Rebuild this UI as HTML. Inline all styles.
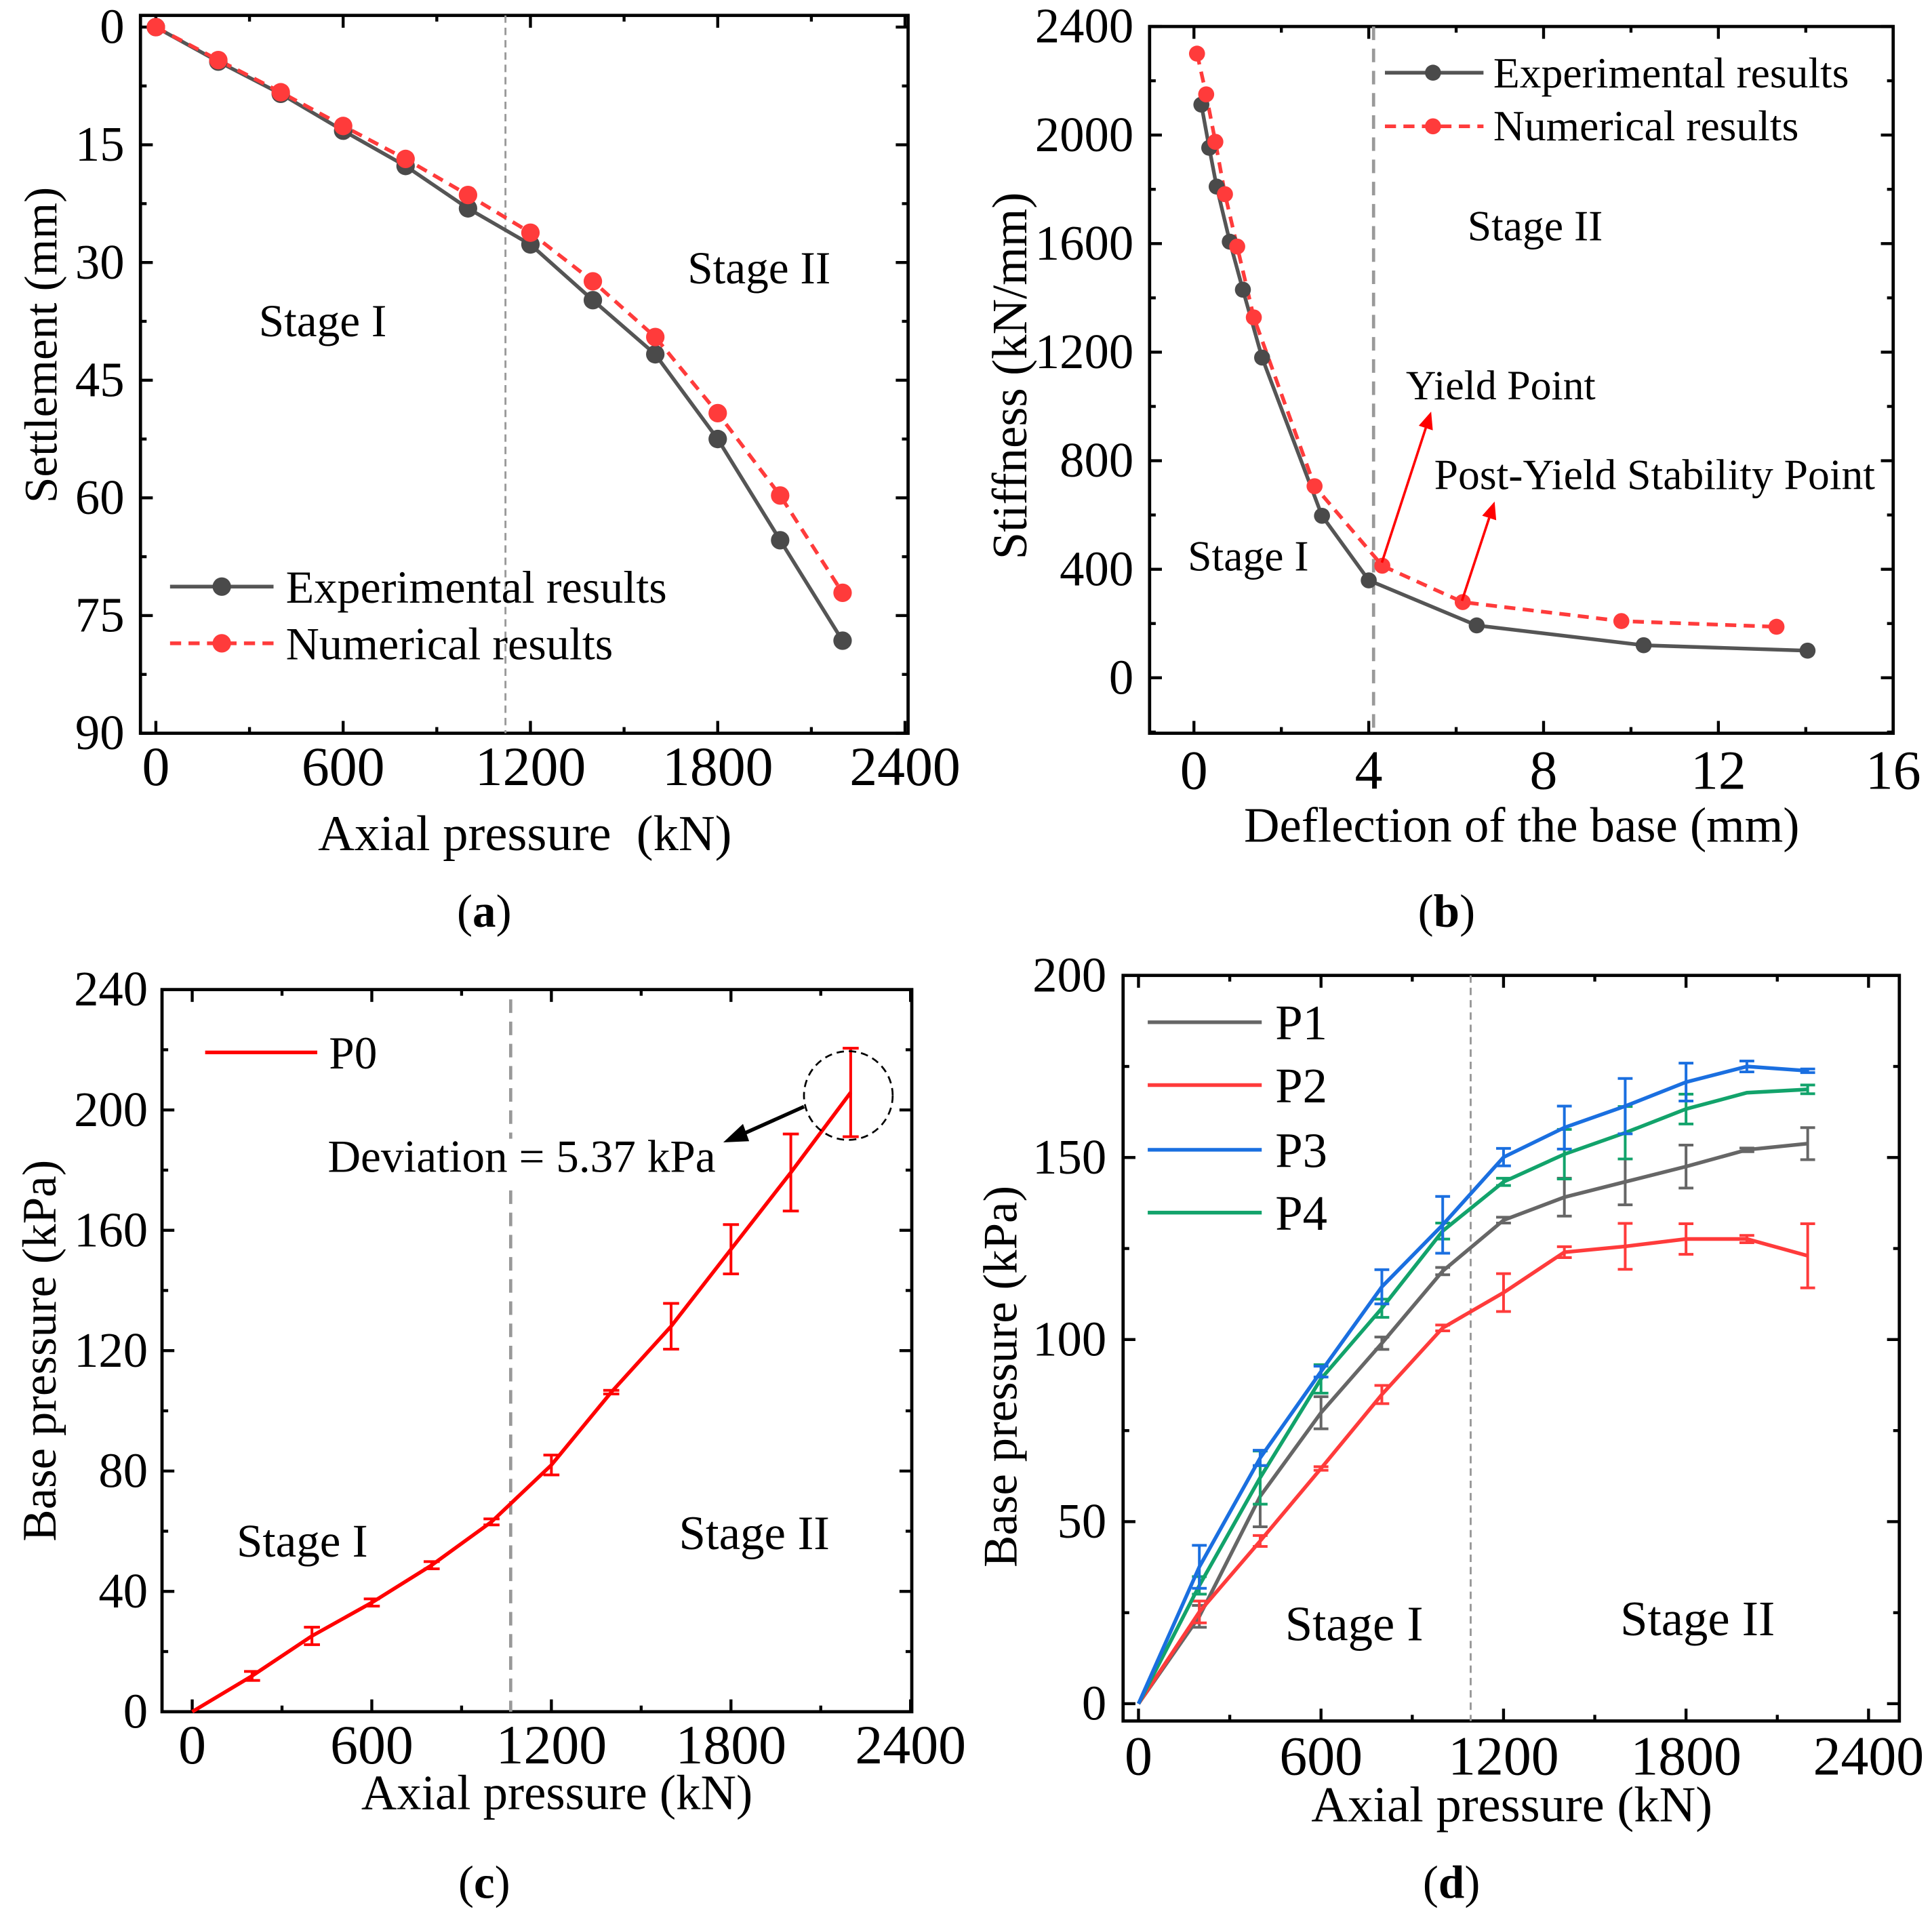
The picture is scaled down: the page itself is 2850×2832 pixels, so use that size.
<!DOCTYPE html>
<html><head><meta charset="utf-8"><style>
html,body{margin:0;padding:0;background:#fff}
svg{display:block}
text{font-family:"Liberation Serif",serif;fill:#000}
</style></head><body>
<svg id="fig" xmlns="http://www.w3.org/2000/svg" width="2850" height="2832" viewBox="0 0 1568 1558" preserveAspectRatio="none">
<rect x="0" y="0" width="1568" height="1558" fill="#fff"/>
</svg>
<script>
// ---- Panel (a) data ----
const aX = [0,200,400,600,800,1000,1200,1400,1600,1800,2000,2200];
const aExp = [0,4.4,8.5,13.2,17.7,23.1,27.7,34.8,41.7,52.5,65.4,78.2];
const aNum = [0,4.2,8.3,12.6,16.8,21.4,26.2,32.4,39.5,49.2,59.7,72.1];
const aXTicks = [0,600,1200,1800,2400];
const aYTicks = [0,15,30,45,60,75,90];
// ---- Panel (b) data ----
const bExpX = [0.17,0.35,0.52,0.82,1.12,1.56,2.93,4.0,6.47,10.29,14.04];
const bExpY = [2112,1953,1810,1607,1430,1180,597,359,193,120,100];
const bNumX = [0.07,0.28,0.49,0.71,0.99,1.37,2.76,4.31,6.15,9.78,13.33];
const bNumY = [2300,2150,1975,1782,1589,1328,706,413,279,209,188];
const bXTicks = [0,4,8,12,16];
const bYTicks = [0,400,800,1200,1600,2000,2400];
// ---- Panel (c) data ----
const cX = [0,200,400,600,800,1000,1200,1400,1600,1800,2000,2200];
const cP0 = [0,11.9,25.2,36.3,48.7,63.1,82.0,106.2,128.1,153.7,179.2,205.8];
const cErr = [0,1.5,2.9,1.2,1.2,1.0,3.3,0.6,7.6,8.2,12.8,14.7];
const cXTicks = [0,600,1200,1800,2400];
const cYTicks = [0,40,80,120,160,200,240];
// ---- Panel (d) data ----
const dX = [0,200,400,600,800,1000,1200,1400,1600,1800,2000,2200];
const dP1 = [0,24.0,57.0,79.9,99.0,118.8,132.8,139.1,143.3,147.5,152.1,153.8];
const dP1Err = [0,3,8.4,4.4,1.7,1,0.8,5.2,6.3,5.9,0.5,4.4];
const dP2 = [0,25.2,44.7,64.6,84.9,103.2,112.9,124.0,125.6,127.6,127.6,123.0];
const dP2Err = [0,3,1.5,0.5,2.5,0.8,5.2,1.5,6.3,4.2,1.0,8.8];
const dP3 = [0,37.6,67.5,91.2,114.5,131.5,150.1,158.2,164.1,170.7,175.0,173.8];
const dP3Err = [0,5.9,2.1,1.5,4.7,7.8,2.4,5.9,7.6,5.2,1.5,0.5];
const dP4 = [0,32.5,62.1,89.2,108.6,129.8,143.3,150.9,156.8,163.3,167.8,168.7];
const dP4Err = [0,2.4,7.3,3.9,2.5,2.2,1,6.8,7.2,4.1,0,1.2];
const dXTicks = [0,600,1200,1800,2400];
const dYTicks = [0,50,100,150,200];

const NS = "http://www.w3.org/2000/svg";
const svg = document.getElementById('fig');
function mk(tag, attrs, parent){
  const e = document.createElementNS(NS, tag);
  for (const k in attrs) e.setAttribute(k, attrs[k]);
  (parent||svg).appendChild(e);
  return e;
}
function lin(v0,p0,v1,p1){ return v => p0 + (v-v0)/(v1-v0)*(p1-p0); }

function axes(g, fx, fy, fr, xt, xminor, yt, yminor, xLab, yLab, xBase, yRight){
  const frame = mk('rect',{x:fr[0],y:fr[1],width:fr[2]-fr[0],height:fr[3]-fr[1],fill:'none',stroke:'#000','stroke-width':2.6},g);
  
  
  const tk = (x1,y1,x2,y2)=>mk('line',{x1,y1,x2,y2,stroke:'#000','stroke-width':2.4},g);
  xt.forEach(v=>{ const x=fx(v); tk(x,fr[3],x,fr[3]-10); tk(x,fr[1],x,fr[1]+10);
    const t=mk('text',{x:x,y:xBase,'text-anchor':'middle','font-size':45},g); t.textContent=xLab(v);
      });
  xminor.forEach(v=>{ const x=fx(v); tk(x,fr[3],x,fr[3]-5); tk(x,fr[1],x,fr[1]+5); });
  yt.forEach(v=>{ const y=fy(v); tk(fr[0],y,fr[0]+10,y); tk(fr[2],y,fr[2]-10,y);
    const t=mk('text',{x:yRight,y:y+13,'text-anchor':'end','font-size':40},g); t.textContent=yLab(v);
      });
  yminor.forEach(v=>{ const y=fy(v); tk(fr[0],y,fr[0]+5,y); tk(fr[2],y,fr[2]-5,y); });
}
function txt(g,x,y,s,size,name,extra){
  const t=mk('text',Object.assign({x,y,'font-size':size},extra||{}),g); t.textContent=s;
    return t;
}
function poly(g,xs,ys,fx,fy,attrs){
  const pts = xs.map((x,i)=>fx(x).toFixed(1)+','+fy(ys[i]).toFixed(1)).join(' ');
  return mk('polyline',Object.assign({points:pts,fill:'none'},attrs),g);
}
function errbars(g,xs,ys,es,fx,fy,col,cap){
  xs.forEach((x,i)=>{ if(!es[i]) return; const px=fx(x), y1=fy(ys[i]-es[i]), y2=fy(ys[i]+es[i]);
    const e=mk('path',{d:`M${px},${y1}V${y2}M${px-cap},${y1}H${px+cap}M${px-cap},${y2}H${px+cap}`,stroke:col,'stroke-width':2.2,fill:'none'},g);
      });
}
function range(a,b,s){const r=[];for(let v=a;v<=b+1e-9;v+=s)r.push(v);return r;}

// ===== Panel A =====
{
  const g=mk('g',{});  
  const fx=lin(0,126.5,2400,734.5), fy=lin(0,22,90,595);
  axes(g,fx,fy,[114,12.5,737,595],aXTicks,range(300,2100,600),aYTicks,range(7.5,82.5,15),v=>v,v=>v,637,101);
  const vl=mk('line',{x1:fx(1120),y1:12.5,x2:fx(1120),y2:595,stroke:'#999','stroke-width':1.6,'stroke-dasharray':'6,4'},g);
   
  const l1=poly(g,aX,aExp,fx,fy,{stroke:'#555','stroke-width':3});  
  const l2=poly(g,aX,aNum,fx,fy,{stroke:'#ff3b3b','stroke-width':3,'stroke-dasharray':'9,6'});  
  aX.forEach((x,i)=>{ const c=mk('circle',{cx:fx(x),cy:fy(aExp[i]),r:7.5,fill:'#4a4a4a'},g);   });
  aX.forEach((x,i)=>{ const c=mk('circle',{cx:fx(x),cy:fy(aNum[i]),r:7.5,fill:'#ff3b3b'},g);   });
  mk('line',{x1:138,y1:476,x2:222,y2:476,stroke:'#555','stroke-width':3},g); mk('circle',{cx:180,cy:476,r:7.5,fill:'#4a4a4a'},g);
  txt(g,232,489,'Experimental results',37.5,'legend-experimental');
  mk('line',{x1:138,y1:522,x2:222,y2:522,stroke:'#ff3b3b','stroke-width':3,'stroke-dasharray':'9,6'},g); mk('circle',{cx:180,cy:522,r:7.5,fill:'#ff3b3b'},g);
  txt(g,232,535,'Numerical results',37.5,'legend-numerical');
  txt(g,210,273,'Stage I',37,'stage-1-label');
  txt(g,558,230,'Stage II',37,'stage-2-label');
  txt(g,426,690,'Axial pressure\u00a0\u00a0(kN)',41,'x-axis-title',{'text-anchor':'middle'});
  txt(g,0,0,'Settlement (mm)',38,'y-axis-title',{'text-anchor':'middle',transform:'translate(46,280) rotate(-90)'});
  const p=txt(g,393,752,'',38,'panel-label-a',{'text-anchor':'middle'}); p.innerHTML='(<tspan font-weight="bold">a</tspan>)';
}
// ===== Panel B =====
{
  const g=mk('g',{});  
  const fx=lin(0,969,16,1536.5), fy=lin(0,550,2400,21.5);
  axes(g,fx,fy,[933,21.5,1536.5,595],bXTicks,range(2,14,4),bYTicks,range(-200,2200,400),v=>v,v=>v,640,920);
  const vl=mk('line',{x1:fx(4.11),y1:21.5,x2:fx(4.11),y2:595,stroke:'#999','stroke-width':2.6,'stroke-dasharray':'11,7'},g);
   
  const l1=poly(g,bExpX,bExpY,fx,fy,{stroke:'#555','stroke-width':3});  
  const l2=poly(g,bNumX,bNumY,fx,fy,{stroke:'#ff3b3b','stroke-width':3,'stroke-dasharray':'9,6'});  
  bExpX.forEach((x,i)=>{ const c=mk('circle',{cx:fx(x),cy:fy(bExpY[i]),r:6.5,fill:'#4a4a4a'},g);   });
  bNumX.forEach((x,i)=>{ const c=mk('circle',{cx:fx(x),cy:fy(bNumY[i]),r:6.5,fill:'#ff3b3b'},g);   });
  mk('line',{x1:1124,y1:59,x2:1204,y2:59,stroke:'#555','stroke-width':3},g); mk('circle',{cx:1163,cy:59,r:6.5,fill:'#4a4a4a'},g);
  txt(g,1212,71,'Experimental results',35,'legend-experimental');
  mk('line',{x1:1124,y1:102.5,x2:1204,y2:102.5,stroke:'#ff3b3b','stroke-width':3,'stroke-dasharray':'9,6'},g); mk('circle',{cx:1163,cy:102.5,r:6.5,fill:'#ff3b3b'},g);
  txt(g,1212,114,'Numerical results',35,'legend-numerical');
  txt(g,1191,195,'Stage II',35,'stage-2-label');
  txt(g,964,463,'Stage I',35,'stage-1-label');
  txt(g,1141,324,'Yield Point',34,'yield-point-label');
  txt(g,1164,397,'Post-Yield Stability Point',35,'post-yield-label');
  const ar=(x1,y1,x2,y2,name)=>{ const a=Math.atan2(y2-y1,x2-x1), L=14, W=6;
    const l=mk('line',{x1,y1,x2:x2-Math.cos(a)*L,y2:y2-Math.sin(a)*L,stroke:'#f00','stroke-width':2},g);
     
    mk('polygon',{points:`${x2},${y2} ${x2-L*Math.cos(a)+W*Math.sin(a)},${y2-L*Math.sin(a)-W*Math.cos(a)} ${x2-L*Math.cos(a)-W*Math.sin(a)},${y2-L*Math.sin(a)+W*Math.cos(a)}`,fill:'#f00'},g); };
  ar(1121.5,456.5,1161.5,334,'yield-arrow');
  ar(1186.5,487.5,1213,407,'post-yield-arrow');
  txt(g,1235,683,'Deflection of the base (mm)',40,'x-axis-title',{'text-anchor':'middle'});
  txt(g,0,0,'Stiffness (kN/mm)',40,'y-axis-title',{'text-anchor':'middle',transform:'translate(833,305) rotate(-90)'});
  const p=txt(g,1174,752,'',38,'panel-label-b',{'text-anchor':'middle'}); p.innerHTML='(<tspan font-weight="bold">b</tspan>)';
}
// ===== Panel C =====
{
  const g=mk('g',{});  
  const fx=lin(0,156,2400,739), fy=lin(0,1389,240,803);
  axes(g,fx,fy,[131.5,803,740,1389],cXTicks,range(300,2100,600),cYTicks,range(20,220,40),v=>v,v=>v,1431,120);
  const vl=mk('path',{d:`M${fx(1064)},811V924M${fx(1064)},966V1389`,stroke:'#999','stroke-width':2.6,'stroke-dasharray':'11,7'},g);
   
  errbars(g,cX,cP0,cErr,fx,fy,'#f00',6.5);
  const l=poly(g,cX,cP0,fx,fy,{stroke:'#f00','stroke-width':3});  
  mk('line',{x1:166.5,y1:854,x2:257.5,y2:854,stroke:'#f00','stroke-width':3},g);
  txt(g,267,867,'P0',37,'legend-p0');
  const ci=mk('circle',{cx:688.5,cy:889,r:36,fill:'none',stroke:'#000','stroke-width':1.5,'stroke-dasharray':'6,4'},g);
   
  mk('line',{x1:652.5,y1:898,x2:600,y2:921.5,stroke:'#000','stroke-width':3},g);
  mk('polygon',{points:'587,927 603,912 608,926',fill:'#000'},g);
  txt(g,266,951,'Deviation = 5.37 kPa',37,'deviation-label');
  txt(g,192,1263,'Stage I',38,'stage-1-label');
  txt(g,551,1257,'Stage II',39,'stage-2-label');
  txt(g,452,1468,'Axial pressure (kN)',40,'x-axis-title',{'text-anchor':'middle'});
  txt(g,0,0,'Base pressure (kPa)',39,'y-axis-title',{'text-anchor':'middle',transform:'translate(45,1096) rotate(-90)'});
  const p=txt(g,393,1540,'',38,'panel-label-c',{'text-anchor':'middle'}); p.innerHTML='(<tspan font-weight="bold">c</tspan>)';
}
// ===== Panel D =====
{
  const g=mk('g',{});  
  const fx=lin(0,924,2400,1516.5), fy=lin(0,1382.5,200,791.5);
  axes(g,fx,fy,[911.5,791.5,1541.5,1396.5],dXTicks,range(300,2100,600),dYTicks,range(25,175,50),v=>v,v=>v,1440,898);
  const vl=mk('line',{x1:fx(1092),y1:791.5,x2:fx(1092),y2:1396.5,stroke:'#999','stroke-width':1.6,'stroke-dasharray':'6,4'},g);
   
  const series=[[dP1,dP1Err,'#666','p1'],[dP2,dP2Err,'#ff3b3b','p2'],[dP4,dP4Err,'#12a36b','p4'],[dP3,dP3Err,'#1a6fe0','p3']];
  series.forEach(s=>{ errbars(g,dX,s[0],s[1],fx,fy,s[2],6);
    const l=poly(g,dX,s[0],fx,fy,{stroke:s[2],'stroke-width':3});
      });
  const leg=[['P1','#666',829.5],['P2','#ff3b3b',880.5],['P3','#1a6fe0',933],['P4','#12a36b',984]];
  leg.forEach(e=>{ mk('line',{x1:931.5,y1:e[2],x2:1024,y2:e[2],stroke:e[1],'stroke-width':3},g);
    txt(g,1035,e[2]+14,e[0],40,'legend-'+e[0].toLowerCase()); });
  txt(g,1043,1331,'Stage I',40,'stage-1-label');
  txt(g,1315,1327,'Stage II',40,'stage-2-label');
  txt(g,1227,1478,'Axial pressure (kN)',41,'x-axis-title',{'text-anchor':'middle'});
  txt(g,0,0,'Base pressure (kPa)',39,'y-axis-title',{'text-anchor':'middle',transform:'translate(825,1117) rotate(-90)'});
  const p=txt(g,1178,1540,'',38,'panel-label-d',{'text-anchor':'middle'}); p.innerHTML='(<tspan font-weight="bold">d</tspan>)';
}
</script>
</body></html>
